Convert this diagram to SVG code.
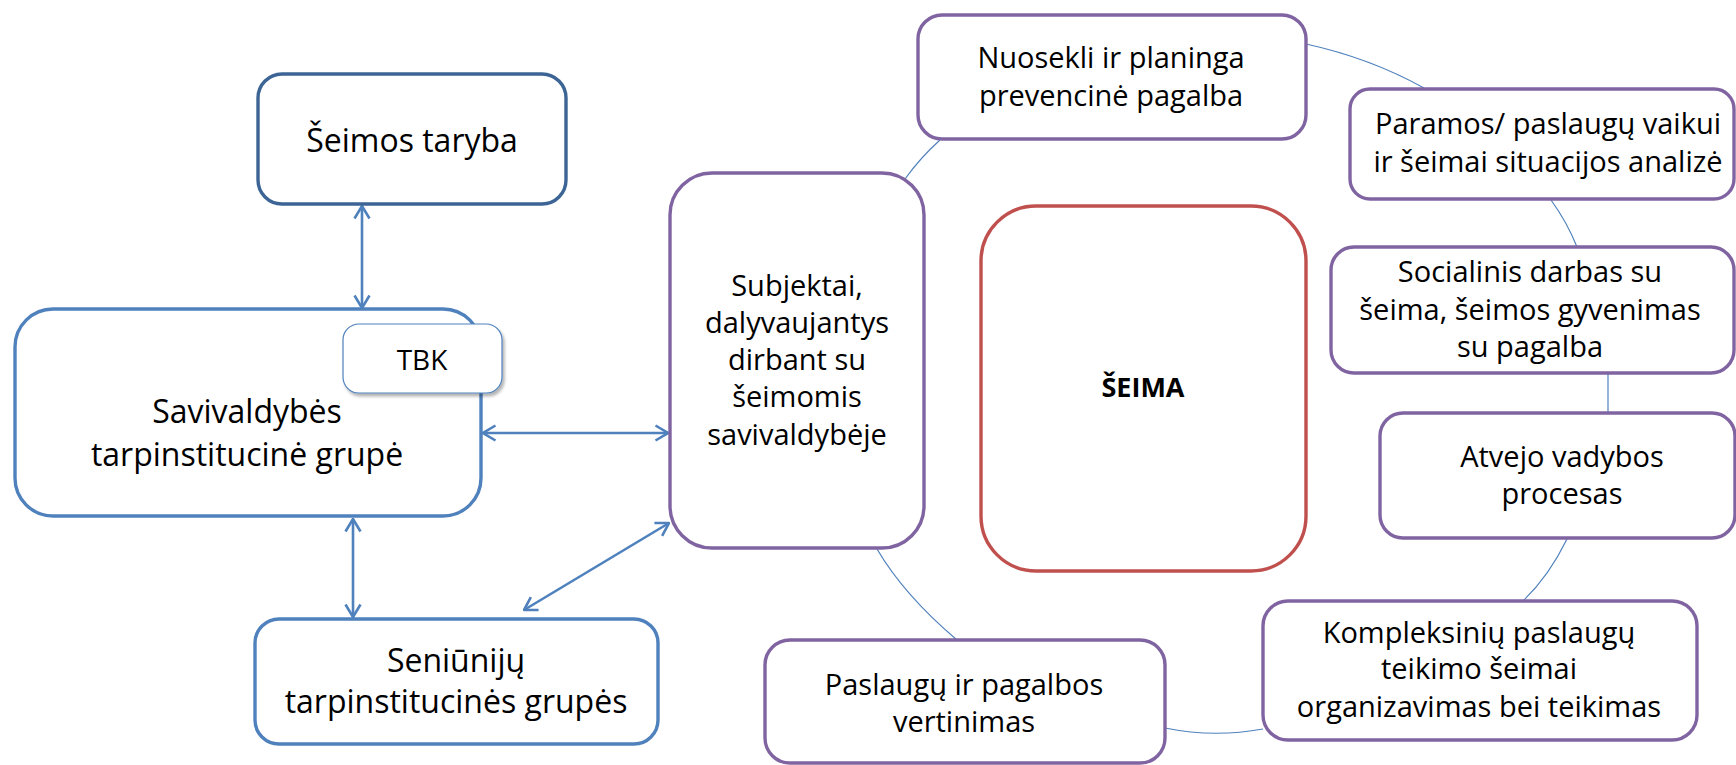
<svg xmlns="http://www.w3.org/2000/svg" width="1736" height="765" viewBox="0 0 1736 765">
<style>
  .t { font-family: "Open Sans", "Liberation Sans", sans-serif; fill: #000; text-anchor: middle; }
  .big { font-size: 32px; }
  .mid { font-size: 29px; }
  .box { fill: #fff; stroke-width: 3.4; }
  .blue { stroke: #4F81BD; }
  .dblue { stroke: #3C6595; }
  .purple { stroke: #8064A2; }
  .red { stroke: #C0504D; }
  .arrow { stroke: #4F81BD; stroke-width: 2.6; fill: none; marker-start: url(#ah); marker-end: url(#ah); }
  .link { stroke: #4F81BD; stroke-width: 1.2; fill: none; }
</style>
<defs>
  <marker id="ah" viewBox="0 0 15 18" refX="14" refY="9" markerWidth="15" markerHeight="18" markerUnits="userSpaceOnUse" orient="auto-start-reverse">
    <path d="M1.5,1.5 L14,9 L1.5,16.5" fill="none" stroke="#4F81BD" stroke-width="2.6"/>
  </marker>
  <filter id="sh" x="-10%" y="-10%" width="130%" height="140%">
    <feGaussianBlur in="SourceAlpha" stdDeviation="1.5"/>
    <feOffset dx="2" dy="3" result="o"/>
    <feFlood flood-color="#000" flood-opacity="0.3"/>
    <feComposite in2="o" operator="in"/>
    <feMerge><feMergeNode/><feMergeNode in="SourceGraphic"/></feMerge>
  </filter>
</defs>
<rect width="1736" height="765" fill="#fff"/>

<g id="connectors">
  <line class="arrow" x1="362" y1="206" x2="362" y2="308"/>
  <line class="arrow" x1="483" y1="433" x2="668" y2="433"/>
  <line class="arrow" x1="353" y1="519" x2="353" y2="617"/>
  <line class="arrow" x1="524" y1="610" x2="669" y2="523"/>
  <path class="link" d="M905,179 Q920,158 940,140"/>
  <path class="link" d="M1306,44 Q1370,58 1424,88"/>
  <path class="link" d="M1551,200 Q1567,222 1577,247"/>
  <path class="link" d="M1608,374 L1608,413"/>
  <path class="link" d="M1567,539 Q1549,576 1523,601"/>
  <path class="link" d="M1263,729 Q1214,738 1165,728"/>
  <path class="link" d="M957,640 Q904,595 877,549"/>
</g>

<g id="seimos-taryba">
  <rect class="box dblue" x="258" y="74" width="308" height="130" rx="24" ry="24"/>
  <text class="t big" x="412" y="152">Šeimos taryba</text>
</g>

<g id="savivaldybes-grupe">
  <rect class="box blue" x="15" y="309" width="466" height="207" rx="38" ry="38"/>
  <text class="t big" x="247" y="423">Savivaldybės</text>
  <text class="t big" x="247" y="466">tarpinstitucinė grupė</text>
</g>

<g id="tbk">
  <rect x="343" y="324" width="159" height="69" rx="16" ry="16" fill="#fff" stroke="#4F81BD" stroke-width="1.2" filter="url(#sh)"/>
  <text class="t" style="font-size:28px" x="422" y="370">TBK</text>
</g>

<g id="seniuniju-grupes">
  <rect class="box blue" x="255" y="619" width="403" height="125" rx="24" ry="24"/>
  <text class="t big" x="456" y="672">Seniūnijų</text>
  <text class="t big" x="456" y="713">tarpinstitucinės grupės</text>
</g>

<g id="subjektai">
  <rect class="box purple" x="670" y="173" width="254" height="375" rx="42" ry="42"/>
  <text class="t mid" x="797" y="296">Subjektai,</text>
  <text class="t mid" x="797" y="333">dalyvaujantys</text>
  <text class="t mid" x="797" y="370">dirbant su</text>
  <text class="t mid" x="797" y="407">šeimomis</text>
  <text class="t mid" x="797" y="445">savivaldybėje</text>
</g>

<g id="seima">
  <rect class="box red" x="981" y="206" width="325" height="365" rx="55" ry="55"/>
  <text class="t" style="font-size:27px;font-weight:bold" x="1143" y="397">ŠEIMA</text>
</g>

<g id="nuosekli">
  <rect class="box purple" x="918" y="15" width="388" height="124" rx="24" ry="24"/>
  <text class="t mid" x="1111" y="68">Nuosekli ir planinga</text>
  <text class="t mid" x="1111" y="106">prevencinė pagalba</text>
</g>

<g id="paramos">
  <rect class="box purple" x="1350" y="89" width="384" height="110" rx="20" ry="20"/>
  <text class="t mid" x="1548" y="134">Paramos/ paslaugų vaikui</text>
  <text class="t mid" x="1548" y="172">ir šeimai situacijos analizė</text>
</g>

<g id="socialinis">
  <rect class="box purple" x="1331" y="247" width="403" height="126" rx="23" ry="23"/>
  <text class="t mid" x="1530" y="282">Socialinis darbas su</text>
  <text class="t mid" x="1530" y="320">šeima, šeimos gyvenimas</text>
  <text class="t mid" x="1530" y="357">su pagalba</text>
</g>

<g id="atvejo">
  <rect class="box purple" x="1380" y="413" width="355" height="125" rx="23" ry="23"/>
  <text class="t mid" x="1562" y="467">Atvejo vadybos</text>
  <text class="t mid" x="1562" y="504">procesas</text>
</g>

<g id="kompleksiniu">
  <rect class="box purple" x="1263" y="601" width="434" height="139" rx="25" ry="25"/>
  <text class="t mid" x="1479" y="643">Kompleksinių paslaugų</text>
  <text class="t mid" x="1479" y="679">teikimo šeimai</text>
  <text class="t mid" x="1479" y="717">organizavimas bei teikimas</text>
</g>

<g id="paslaugu-vertinimas">
  <rect class="box purple" x="765" y="640" width="400" height="123" rx="25" ry="25"/>
  <text class="t mid" x="964" y="695">Paslaugų ir pagalbos</text>
  <text class="t mid" x="964" y="732">vertinimas</text>
</g>
</svg>
